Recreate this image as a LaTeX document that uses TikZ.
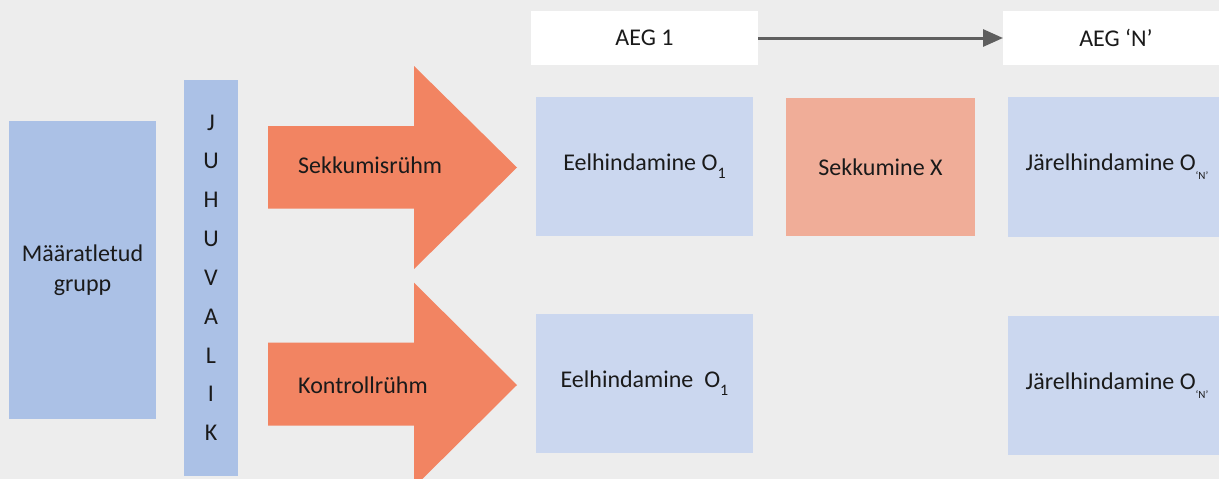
\documentclass[tikz,border=0pt]{standalone}
\usepackage{fontspec}
\setmainfont{Carlito}
\usetikzlibrary{arrows.meta}

\definecolor{bg}{HTML}{EDEDED}
\definecolor{groupblue}{HTML}{ABC1E6}
\definecolor{lightblue}{HTML}{CBD7EF}
\definecolor{coral}{HTML}{F28462}
\definecolor{salmon}{HTML}{F0AD98}
\definecolor{ink}{HTML}{1A1A1A}
\definecolor{linegray}{HTML}{5F5F5F}

% lowered index after the O: #1 font size, #2 drop below the baseline, #3 text
\newcommand{\lowidx}[3]{\raisebox{-#2pt}{\fontsize{#1}{#1}\selectfont #3}}

\tikzset{
  every node/.style={font=\fontsize{24}{30}\selectfont, text=ink},
  panel/.style={rectangle, inner sep=0pt, outer sep=0pt, anchor=north west, align=center},
  letter/.style={inner sep=0pt, anchor=base},
  label/.style={inner sep=0pt, anchor=base west},
  bigarrow/.style={fill=coral},
  flow/.style={draw=linegray, line width=3pt, -{Triangle[length=20pt,width=17pt]}},
}

\begin{document}
\begin{tikzpicture}[x=1pt,y=-1pt]
  \fill[bg] (0,0) rectangle (1219,479);
  \useasboundingbox (0,0) rectangle (1219,479);
  \clip (0,0) rectangle (1219,479);

  % defined group
  \node[panel, fill=groupblue, minimum width=147pt, minimum height=298pt] (group) at (9,121) {Määratletud\\grupp};

  % random selection column
  \node[panel, fill=groupblue, minimum width=54pt, minimum height=396pt] (rand) at (184,80) {};
  \foreach \ch [count=\i from 0] in {J,U,H,U,V,A,L,I,K}
    \node[letter] (rl\i) at (211, 130+38.84*\i) {\ch};

  % group arrows
  \fill[bigarrow] (268,126) -- (414,126) -- (414,66) -- (517,167.5) -- (414,269) -- (414,208.7) -- (268,208.7) -- cycle;
  \node[label] (treat) at (298,173.3) {Sekkumisrühm};
  \fill[bigarrow] (268,342.7) -- (414,342.7) -- (414,282.7) -- (517,385) -- (414,487.3) -- (414,425.7) -- (268,425.7) -- cycle;
  \node[label] (ctrl) at (298,393.3) {Kontrollrühm};

  % time headers
  \node[panel, fill=white, minimum width=227pt, minimum height=54pt] (t1) at (531,11) {AEG 1};
  \node[panel, fill=white, minimum width=226pt, minimum height=54pt] (tn) at (1003,11) {AEG ‘N’};
  \draw[flow] (t1.east) -- (tn.west);

  % measurements
  \node[panel, fill=lightblue, minimum width=217pt, minimum height=139pt] (pre1) at (536,97) {Eelhindamine O\lowidx{16}{8}{1}};
  \node[panel, fill=salmon, minimum width=189pt, minimum height=138pt] (interv) at (786,98) {Sekkumine X};
  \node[panel, fill=lightblue, minimum width=218pt, minimum height=140pt] (post1) at (1008,97) {Järelhindamine O\lowidx{11}{9}{‘N’}};
  \node[panel, fill=lightblue, minimum width=217pt, minimum height=139pt] (pre2) at (536,314) {Eelhindamine\ \ O\lowidx{16}{8}{1}};
  \node[panel, fill=lightblue, minimum width=218pt, minimum height=139pt] (post2) at (1008,316) {Järelhindamine O\lowidx{11}{9}{‘N’}};
\end{tikzpicture}
\end{document}
